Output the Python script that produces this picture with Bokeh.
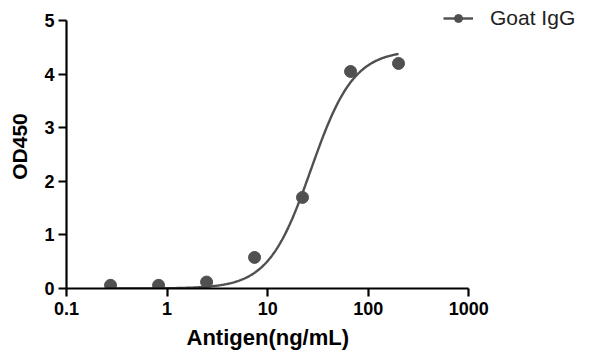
import numpy as np
from bokeh.plotting import figure
from bokeh.models import FixedTicker, Legend, LegendItem, ColumnDataSource, Title
from bokeh.embed import file_html
from bokeh.resources import INLINE

# Data
antigen_ng_ml = [0.274, 0.823, 2.47, 7.41, 22.2, 66.7, 200.0]
od450 = [0.06, 0.06, 0.12, 0.58, 1.70, 4.05, 4.20]
series_name = "Goat IgG"
x_title = "Antigen(ng/mL)"
y_title = "OD450"

# 4-parameter logistic fit parameters
fit_bottom = 0.0
fit_top = 4.45
fit_ec50 = 27.0
fit_hill = 2.05

x_ticks = [0.1, 1, 10, 100, 1000]
x_tick_labels = ["0.1", "1", "10", "100", "1000"]
y_ticks = [0, 1, 2, 3, 4, 5]

color = "#505050"

# The frame is extended beyond the axis bounds so the legend (top-right) is not clipped
px_per_decade = 100.5
px_per_unit = 53.6
x_end_log = 4.15
y_end = 5.3

p = figure(x_axis_type="log", x_range=(0.1, 10 ** x_end_log), y_range=(0, y_end),
           frame_width=int(round((x_end_log + 1) * px_per_decade)),
           frame_height=int(round(y_end * px_per_unit)),
           min_border_left=66, min_border_right=4, min_border_top=4, min_border_bottom=0,
           output_backend="svg", toolbar_location=None)

p.grid.visible = False
p.outline_line_color = None
p.background_fill_color = "white"
p.border_fill_color = "white"

# fitted curve
xs = np.logspace(np.log10(antigen_ng_ml[0]), np.log10(antigen_ng_ml[-1]), 300)
ys = fit_bottom + (fit_top - fit_bottom) / (1 + (fit_ec50 / xs) ** fit_hill)
line_r = p.line(xs, ys, line_color=color, line_width=2.4)

src = ColumnDataSource(dict(x=antigen_ng_ml, y=od450))
pts_r = p.scatter("x", "y", source=src, size=12, fill_color=color, line_color=color)

for ax in (p.xaxis[0], p.yaxis[0]):
    ax.axis_line_width = 2.2
    ax.axis_line_color = "black"
    ax.major_tick_line_width = 2.2
    ax.major_tick_line_color = "black"
    ax.major_tick_in = 0
    ax.major_tick_out = 8
    ax.minor_tick_line_color = None
    ax.major_label_text_font = "Liberation Sans"
    ax.major_label_text_font_style = "bold"
    ax.major_label_text_font_size = "18px"
    ax.major_label_text_color = "black"
    ax.axis_label_text_font = "Liberation Sans"
    ax.axis_label_text_font_style = "bold"
    ax.axis_label_text_font_size = "21px"
    ax.axis_label_text_color = "black"

p.xaxis.bounds = (x_ticks[0], x_ticks[-1])
p.yaxis.bounds = (y_ticks[0], y_ticks[-1])
p.xaxis.ticker = FixedTicker(ticks=x_ticks, minor_ticks=[])
p.xaxis.major_label_overrides = {t: l for t, l in zip(x_ticks, x_tick_labels)}
p.yaxis.ticker = FixedTicker(ticks=y_ticks, minor_ticks=[])
p.yaxis.axis_label = y_title
p.xaxis.major_label_standoff = 5
p.yaxis.major_label_standoff = 4
p.yaxis.axis_label_standoff = 10

# x-axis title centred under the bounded axis (0.1 .. 1000), not under the wider frame
p.add_layout(Title(text=x_title, align="left", offset=120, standoff=10,
                   text_font="Liberation Sans", text_font_style="bold",
                   text_font_size="22px", text_color="black"), "below")

legend = Legend(items=[LegendItem(label=series_name, renderers=[line_r, pts_r])],
                location=(377, 258), padding=0, margin=0, border_line_color=None,
                background_fill_alpha=0, glyph_width=30, glyph_height=20,
                label_standoff=17, label_text_font="Liberation Sans",
                label_text_font_size="21px", label_text_color="#222222")
p.add_layout(legend, "center")

open("out.html", "w").write(file_html(p, INLINE))
